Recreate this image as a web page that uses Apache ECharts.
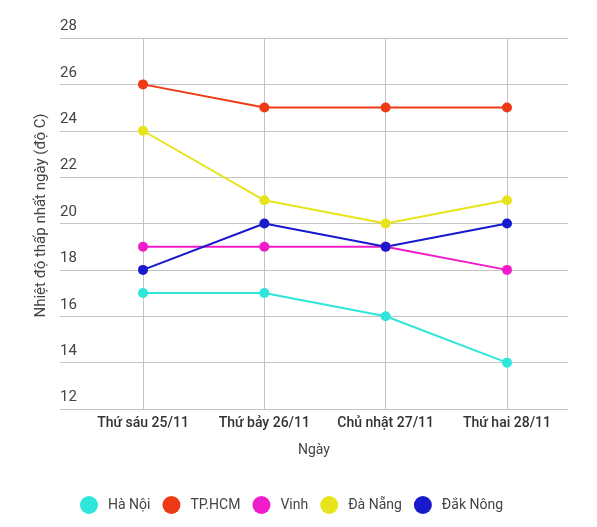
<!DOCTYPE html>
<html>
<head>
<meta charset="utf-8">
<script src="https://cdn.jsdelivr.net/npm/echarts@6/dist/echarts.min.js"></script>
<style>
  html, body { margin: 0; padding: 0; background: #fff; }
  #container { width: 597px; height: 527px; }
</style>
</head>
<body>
<div id="container"></div>
<script>
var days = ['Thứ sáu 25/11', 'Thứ bảy 26/11', 'Chủ nhật 27/11', 'Thứ hai 28/11']
var haNoi = [17, 17, 16, 14]
var hcm = [26, 25, 25, 25]
var vinh = [19, 19, 19, 18]
var daNang = [24, 21, 20, 21]
var dakNong = [18, 20, 19, 20]

var names = ['Hà Nội', 'TP.HCM', 'Vinh', 'Đà Nẵng', 'Đắk Nông']
var colors = ['#2ee6da', '#ee3a14', '#f01ccc', '#e8e41c', '#1818cc']
var values = [haNoi, hcm, vinh, daNang, dakNong]

var font = 'Roboto, "Noto Sans", sans-serif'

window.onload = function(){
    var myChart = echarts.init(document.getElementById('container'))

    var series = []
    for(let i = 0; i < names.length; i++){
        series.push({
            name: names[i],
            type: 'line',
            xAxisIndex: 1,
            yAxisIndex: 1,
            data: values[i],
            symbol: 'circle',
            symbolSize: 10,
            lineStyle: { width: 2, color: colors[i] },
            itemStyle: { color: colors[i] },
            emphasis: { disabled: true }
        })
    }

    var option = {
        animation: false,
        textStyle: { fontFamily: font },
        color: colors,
        legend: {
            data: names,
            left: 75,
            top: 491,
            icon: 'circle',
            itemWidth: 18,
            itemHeight: 18,
            itemGap: 12,
            textStyle: { fontSize: 14, color: '#444', padding: [0, 0, 0, 5] }
        },
        grid: [
            { left: 60, right: 29, top: 38, bottom: 118 },
            { left: 143, right: 90, top: 38, bottom: 118 }
        ],
        xAxis: [{
            gridIndex: 0,
            type: 'category',
            data: days,
            axisLine: { show: false },
            axisTick: { show: false },
            axisLabel: { show: false },
            splitLine: { show: false },
            name: 'Ngày',
            nameLocation: 'middle',
            nameGap: 34,
            nameTextStyle: { fontSize: 14, color: '#444' }
        }, {
            gridIndex: 1,
            type: 'category',
            data: days,
            boundaryGap: false,
            axisLine: { show: false },
            axisTick: { show: false },
            axisLabel: { interval: 0, fontSize: 14, fontWeight: 500, color: '#333', margin: 7 },
            splitLine: { show: true, interval: 0, lineStyle: { color: '#c4c4c4', width: 1 } }
        }],
        yAxis: [{
            gridIndex: 0,
            type: 'value',
            min: 12,
            max: 28,
            interval: 2,
            axisLine: { show: false },
            axisTick: { show: false },
            axisLabel: {
                inside: true,
                margin: 0,
                verticalAlign: 'bottom',
                padding: [0, 0, 4, 0],
                fontSize: 15,
                color: '#444'
            },
            splitLine: { lineStyle: { color: '#c4c4c4', width: 1 } },
            name: 'Nhiệt độ thấp nhất ngày (độ C)',
            nameLocation: 'middle',
            nameGap: 8,
            nameTextStyle: { fontSize: 15, color: '#444', padding: [0, 0, 0, 16] }
        }, {
            gridIndex: 1,
            type: 'value',
            min: 12,
            max: 28,
            interval: 2,
            show: false
        }],
        series: series
    }

    myChart.setOption(option, true)
}
</script>
</body>
</html>
